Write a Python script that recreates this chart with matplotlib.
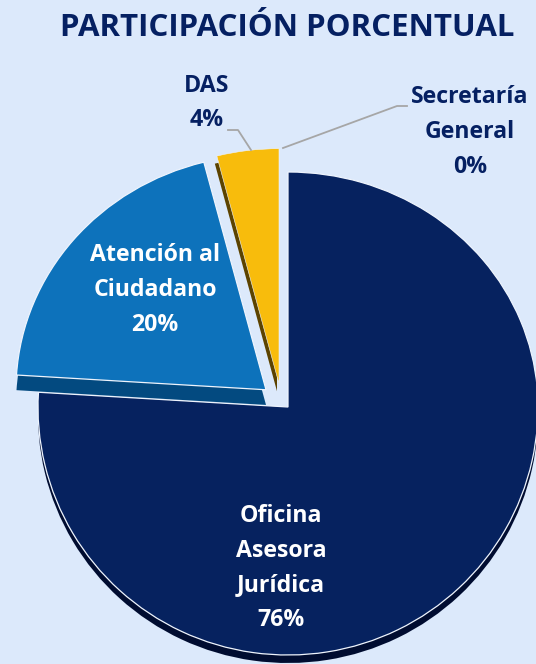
import numpy as np
import matplotlib
matplotlib.use("Agg")
from matplotlib import pyplot as plt

W, H = 536, 664
plt.rcParams['font.family'] = ['Open Sans', 'DejaVu Sans']

labels = ["Oficina\nAsesora\nJurídica\n76%", "Atención al\nCiudadano\n20%", "DAS\n4%", "Secretaría\nGeneral\n0%"]
values = [76, 20, 4, 0]
top_colors = ["#06225f", "#0d72bb", "#f8bc0c", "#a6a6a6"]
side_colors = ["#000c30", "#034a80", "#5c4300", "#a6a6a6"]
explode = [0, 0.115, 0.1, 0]

NAVY = "#052062"
BG = "#dce9fb"

# pie centre and radii in pixels, lower half is stretched (fake perspective)
cx, cy, rx, ry_up, ry_down = 288, 407, 250, 235, 248


def to_px(y):
    return np.where(np.asarray(y) > 0, np.asarray(y) * ry_up, np.asarray(y) * ry_down)


def from_px(p):
    return np.where(np.asarray(p) > 0, np.asarray(p) / ry_up, np.asarray(p) / ry_down)


def fx(x):
    return x / W


def fy(y):
    return 1 - y / H


fig = plt.figure(figsize=(W / 100, H / 100), dpi=100, facecolor=BG)
ax = fig.add_axes([0, 0, 1, 1])

# extrusion offset per slice, (dx, dy) in data units
depth = [(0, -8 / ry_down), (0, -16 / ry_down), (-2 / rx, -8 / ry_down), (0, 0)]

sides, _ = ax.pie(values, explode=explode, colors=side_colors, startangle=90, counterclock=False)
tops, _ = ax.pie(values, explode=explode, colors=top_colors, startangle=90, counterclock=False)

for i, (s, t) in enumerate(zip(sides, tops)):
    c = t.center
    if i == 1:
        c = (-0.088, c[1])
        t.set_center(c)
    if i == 2:
        # yellow slice sits a bit further left than plain explode gives
        c = (-0.036, c[1])
        t.set_center(c)
    s.set_center((c[0] + depth[i][0], c[1] + depth[i][1]))
    s.set_zorder(1 + 2 * i)
    t.set_zorder(2 + 2 * i)
    s.set_linewidth(0)
    t.set_edgecolor("#eef4fd")
    t.set_linewidth(0.9 if i < 2 else 0.4)
    if values[i] == 0:
        s.set_visible(False)
        t.set_visible(False)

ax.set_aspect('auto')
ax.set_yscale('function', functions=(to_px, from_px))
ax.set_xlim(-cx / rx, (W - cx) / rx)
ax.set_ylim(-(H - cy) / ry_down, cy / ry_up)
ax.axis('off')

fig.text(fx(287), fy(28), "PARTICIPACIÓN PORCENTUAL", color=NAVY, fontsize=22.5,
         fontweight='bold', ha='center', va='center')

txt = dict(fontsize=16.7, fontweight='bold', ha='center', va='center', linespacing=1.6, zorder=20)
fig.text(fx(281), fy(568), labels[0], color="white", **txt)
fig.text(fx(155), fy(290), labels[1], color="white", **txt)
fig.text(fx(207), fy(103), labels[2], color=NAVY, **txt)
fig.text(fx(470), fy(132), labels[3], color=NAVY, **txt)

# leader lines
for xs, ys in [([228, 238, 251], [130, 130, 150]), ([283, 397, 407], [148, 106, 106])]:
    fig.add_artist(plt.Line2D(fx(np.array(xs)), fy(np.array(ys)), color="#a6a6a6", lw=1.3))

fig.savefig("out.png", dpi=100, facecolor=BG)
